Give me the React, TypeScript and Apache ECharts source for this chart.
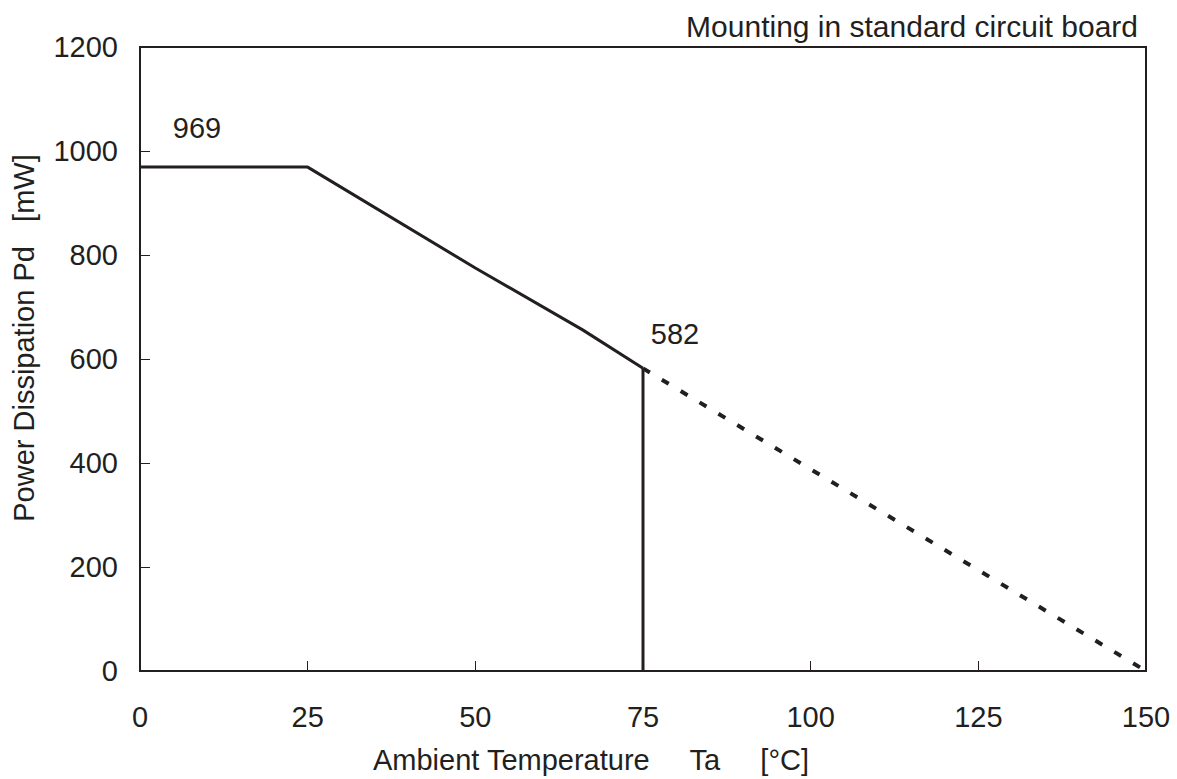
import React, { useEffect, useRef } from "react";
import * as echarts from "echarts";

const solidCurve: [number, number][] = [
  [0, 969],
  [25, 969],
  [50, 775],
  [66, 656],
  [75, 582],
];
const cutoffLine: [number, number][] = [
  [75, 582],
  [75, 0],
];
const extrapolated: [number, number][] = [
  [75, 582],
  [150, 0],
];
const xTicks = [0, 25, 50, 75, 100, 125, 150];
const yTicks = [0, 200, 400, 600, 800, 1000, 1200];
const annotations = [
  { x: 0, y: 969, text: "969", offset: [57, -39] },
  { x: 75, y: 582, text: "582", offset: [32, -34] },
];

const FONT = "'Liberation Sans', Arial, sans-serif";
const INK = "#231f20";
const FS = 29;

export default function App() {
  const ref = useRef<HTMLDivElement>(null);
  useEffect(() => {
    if (!ref.current) return;
    const chart = echarts.init(ref.current, null, { renderer: "svg" });
    chart.setOption({
      animation: false,
      backgroundColor: "#ffffff",
      textStyle: { fontFamily: FONT },
      grid: {
        left: 140,
        right: 31,
        top: 47,
        bottom: 102,
        show: true,
        borderColor: INK,
        borderWidth: 2,
        backgroundColor: "transparent",
      },
      graphic: [
        {
          type: "text",
          right: 39,
          top: 11,
          style: {
            text: "Mounting in standard circuit board",
            font: `30px ${FONT}`,
            fill: INK,
          },
        },
        {
          type: "text",
          x: 24,
          y: 338,
          rotation: Math.PI / 2,
          style: {
            text: "Power Dissipation Pd   [mW]",
            font: `${FS}px ${FONT}`,
            fill: INK,
            align: "center",
            verticalAlign: "middle",
          },
        },
      ],
      xAxis: {
        type: "value",
        min: xTicks[0],
        max: xTicks[xTicks.length - 1],
        interval: 25,
        name: "Ambient Temperature     Ta     [°C]",
        nameLocation: "middle",
        nameGap: 74,
        nameTextStyle: { fontSize: FS, color: INK, fontFamily: FONT, padding: [0, 104, 0, 0] },
        axisLine: { show: true, onZero: false, lineStyle: { color: INK, width: 2 } },
        axisTick: { show: true, inside: true, length: 10, lineStyle: { color: INK, width: 1 } },
        axisLabel: { fontSize: FS, color: INK, fontFamily: FONT, margin: 31 },
        splitLine: { show: false },
      },
      yAxis: {
        type: "value",
        min: yTicks[0],
        max: yTicks[yTicks.length - 1],
        interval: 200,
        axisLine: { show: true, onZero: false, lineStyle: { color: INK, width: 2 } },
        axisTick: { show: true, inside: true, length: 10, lineStyle: { color: INK, width: 1 } },
        axisLabel: {
          fontSize: FS,
          color: INK,
          fontFamily: FONT,
          margin: 22,
          formatter: (v: number) => String(v),
        },
        splitLine: { show: false },
      },
      series: [
        {
          type: "line",
          data: solidCurve,
          symbol: "none",
          lineStyle: { color: INK, width: 3 },
        },
        {
          type: "line",
          data: cutoffLine,
          symbol: "none",
          lineStyle: { color: INK, width: 3 },
        },
        {
          type: "line",
          data: extrapolated,
          symbol: "none",
          lineStyle: { color: INK, width: 4, type: [8, 14] },
        },
        {
          type: "line",
          lineStyle: { width: 0, opacity: 0 },
          symbol: "circle",
          symbolSize: 1,
          itemStyle: { opacity: 0 },
          data: annotations.map((a) => ({
            value: [a.x, a.y],
            label: {
              show: true,
              formatter: a.text,
              offset: a.offset,
              position: "inside",
              fontSize: FS,
              color: INK,
              fontFamily: FONT,
              opacity: 1,
            },
          })),
        },
      ],
    });
    return () => chart.dispose();
  }, []);
  return <div ref={ref} style={{ width: 1177, height: 779, position: "absolute", left: 0, top: 0 }} />;
}
